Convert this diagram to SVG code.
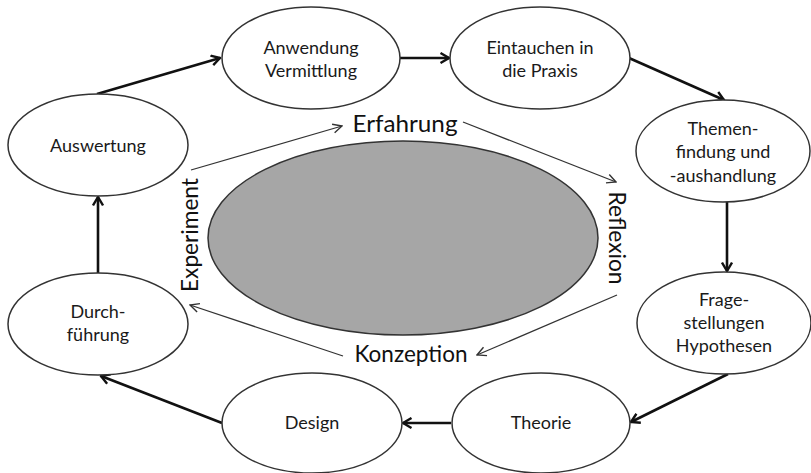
<svg xmlns="http://www.w3.org/2000/svg" width="811" height="473" viewBox="0 0 811 473">
<style>
.node ellipse{fill:#fff;stroke:#333;stroke-width:1.5}
.t{font-family:Lato,"Open Sans",sans-serif;font-size:18px;fill:#1a1a1a;text-anchor:middle}
.big{font-family:Lato,"Open Sans",sans-serif;font-size:24px;fill:#111;text-anchor:middle}
.thick{stroke:#111;stroke-width:2.6;fill:none;marker-end:url(#ah)}
.thin{stroke:#333;stroke-width:1.3;fill:none;marker-end:url(#ahs)}
</style>
<defs>
<marker id="ah" viewBox="0 0 12 12" refX="10.5" refY="6" markerWidth="12" markerHeight="12" markerUnits="userSpaceOnUse" orient="auto">
<path d="M2,1 L10.5,6 L2,11" fill="none" stroke="#111" stroke-width="2.4"/>
</marker>
<marker id="ahs" viewBox="0 0 12 12" refX="11" refY="6" markerWidth="12" markerHeight="12" markerUnits="userSpaceOnUse" orient="auto">
<path d="M2,1.5 L11,6 L2,10.5" fill="none" stroke="#333" stroke-width="1.4"/>
</marker>
</defs>
<rect width="811" height="473" fill="#fff"/>
<ellipse cx="403" cy="238" rx="195" ry="97" fill="#a6a6a6" stroke="#333" stroke-width="1.5"/>
<g id="connectors">
<line class="thick" x1="97" y1="94" x2="220" y2="58"/>
<line class="thick" x1="400" y1="58" x2="449" y2="58"/>
<line class="thick" x1="629" y1="58" x2="724" y2="100"/>
<line class="thick" x1="727" y1="202" x2="727" y2="271"/>
<line class="thick" x1="728" y1="374" x2="631" y2="422"/>
<line class="thick" x1="451" y1="423" x2="403" y2="423"/>
<line class="thick" x1="222" y1="423" x2="101" y2="376"/>
<line class="thick" x1="98" y1="273" x2="98" y2="197"/>
<line class="thin" x1="191" y1="170" x2="342" y2="126"/>
<line class="thin" x1="463" y1="122" x2="616" y2="182"/>
<line class="thin" x1="617" y1="295" x2="477" y2="355"/>
<line class="thin" x1="343" y1="356" x2="190" y2="305"/>
</g>
<g id="n-anwendung" class="node"><ellipse cx="311" cy="58" rx="89" ry="51"/><text class="t" x="311" y="54">Anwendung</text><text class="t" x="311" y="77">Vermittlung</text></g>
<g id="n-eintauchen" class="node"><ellipse cx="540" cy="58" rx="90" ry="51"/><text class="t" x="540" y="54">Eintauchen in</text><text class="t" x="540" y="77">die Praxis</text></g>
<g id="n-themen" class="node"><ellipse cx="723" cy="151" rx="87" ry="51"/><text class="t" x="723" y="135">Themen-</text><text class="t" x="723" y="158">findung und</text><text class="t" x="723" y="182">-aushandlung</text></g>
<g id="n-frage" class="node"><ellipse cx="724" cy="323" rx="87" ry="51"/><text class="t" x="724" y="306">Frage-</text><text class="t" x="724" y="329">stellungen</text><text class="t" x="724" y="352">Hypothesen</text></g>
<g id="n-theorie" class="node"><ellipse cx="541" cy="423" rx="89" ry="50"/><text class="t" x="541" y="429">Theorie</text></g>
<g id="n-design" class="node"><ellipse cx="312" cy="423" rx="90" ry="50"/><text class="t" x="312" y="429">Design</text></g>
<g id="n-durch" class="node"><ellipse cx="98" cy="324" rx="90" ry="51"/><text class="t" x="98" y="318">Durch-</text><text class="t" x="98" y="341">führung</text></g>
<g id="n-auswertung" class="node"><ellipse cx="98" cy="145" rx="90" ry="51"/><text class="t" x="98" y="152">Auswertung</text></g>
<g id="l-erfahrung"><text class="big" x="405" y="132" textLength="105" lengthAdjust="spacingAndGlyphs">Erfahrung</text></g>
<g id="l-reflexion"><text class="big" transform="translate(609,238) rotate(90)" x="0" y="0" textLength="93" lengthAdjust="spacingAndGlyphs">Reflexion</text></g>
<g id="l-konzeption"><text class="big" x="411" y="362" textLength="113" lengthAdjust="spacingAndGlyphs">Konzeption</text></g>
<g id="l-experiment"><text class="big" transform="translate(198,235) rotate(-90)" x="0" y="0" textLength="114" lengthAdjust="spacingAndGlyphs">Experiment</text></g>
</svg>
